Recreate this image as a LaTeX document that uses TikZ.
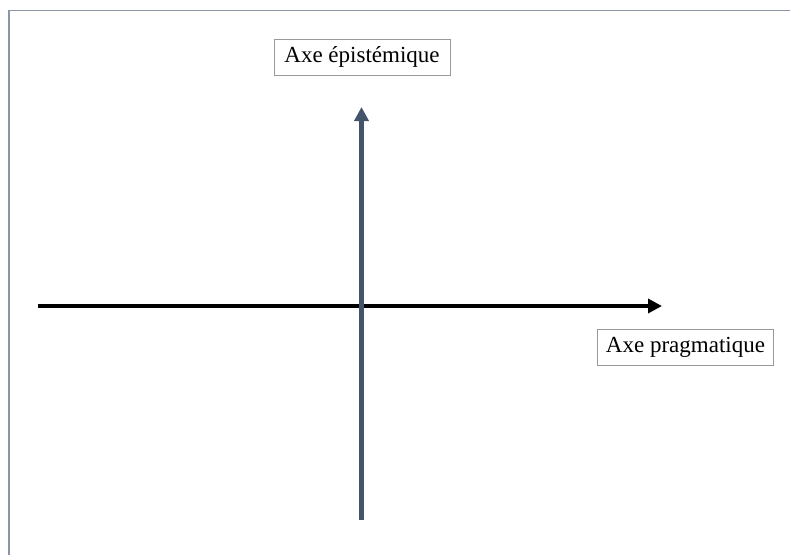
\documentclass[tikz,border=0pt]{standalone}
\usepackage{fontspec}
\setmainfont{Liberation Serif}
\usepackage{tikz}
\usetikzlibrary{arrows.meta}
\definecolor{slate}{HTML}{44546A}
\definecolor{framegray}{HTML}{8A96A6}

\begin{document}
\begin{tikzpicture}[
  x=1pt, y=1pt,
  every node/.style={align=center},
  axislabel/.style={draw=gray!80, line width=0.9pt, fill=white, minimum width=176pt, minimum height=36pt, inner sep=0pt, font=\fontsize{23}{27}\selectfont},
  axis/.style={line width=4.8pt, -{Triangle[length=14pt, width=14pt]}}
]
  \useasboundingbox (0,0) rectangle (790,-555);
  \draw[framegray, line width=1.3pt] (9,-555) -- (9,-10.5) -- (790,-10.5);

  \coordinate (hstart) at (38,-306);
  \coordinate (hend) at (662,-306);
  \coordinate (vstart) at (361.5,-520);
  \coordinate (vend) at (361.5,-107);

  \draw[axis, black] (hstart) -- (hend);
  \draw[axis, slate] (vstart) -- (vend);

  \node[axislabel] (epist) at (362,-57) {Axe épistémique};
  \node[axislabel] (pragm) at (685.5,-347.5) {Axe pragmatique};
\end{tikzpicture}
\end{document}
